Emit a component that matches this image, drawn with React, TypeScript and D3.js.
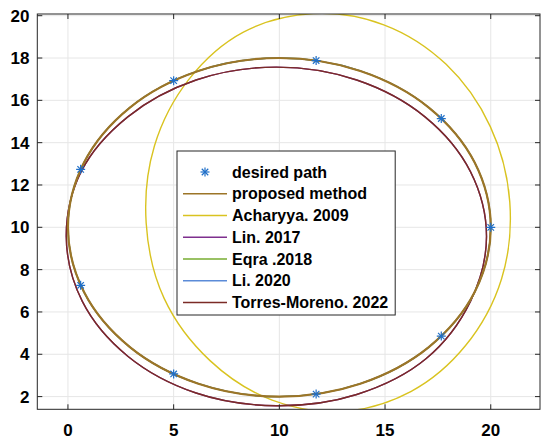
import React from "react";
import * as d3 from "d3";

// ---- data ----
const xTicks = [0, 5, 10, 15, 20];
const yTicks = [2, 4, 6, 8, 10, 12, 14, 16, 18, 20];
const xDomain = [-1.45, 22.33];
const yDomain = [1.4, 20.08];

const desiredX = [20, 17.66, 11.74, 5, 0.6, 0.6, 5, 11.74, 17.66];
const desiredY = [10, 15.14, 17.88, 16.93, 12.74, 7.26, 3.07, 2.12, 4.86];

// proposed method / Eqra / Li (coincident)
const proposedX = [20, 19.24, 17.07, 13.83, 10, 6.17, 2.93, 0.76, 0, 0.76, 2.93, 6.17, 10, 13.83, 17.07, 19.24];
const proposedY = [10, 13.06, 15.66, 17.39, 18, 17.39, 15.66, 13.06, 10, 6.94, 4.34, 2.61, 2, 2.61, 4.34, 6.94];

const acharyyaX = [20.9, 19.98, 17.89, 14.94, 11.6, 8.3, 5.73, 4.09, 3.7, 4.55, 6.72, 9.66, 13.0, 16.24, 18.8, 20.51];
const acharyyaY = [11.2, 14.76, 17.7, 19.57, 20.1, 19.22, 17.0, 13.84, 10.2, 6.64, 3.7, 1.83, 1.3, 2.25, 4.4, 7.56];

// Lin / Torres-Moreno (coincident)
const torresX = [19.8, 19.04, 16.89, 13.66, 9.86, 6.06, 2.83, 0.64, -0.08, 0.68, 2.83, 6.06, 9.86, 13.66, 16.95, 19.04];
const torresY = [9.57, 12.63, 15.22, 16.96, 17.57, 16.96, 15.22, 12.66, 9.57, 6.5, 3.91, 2.17, 1.57, 2.1, 3.8, 6.5];

const legendLabels = [
  "desired path",
  "proposed method",
  "Acharyya. 2009",
  "Lin. 2017",
  "Eqra .2018",
  "Li. 2020",
  "Torres-Moreno. 2022",
];
const colors = ["#1f6fc8", "#9C7527", "#D9C320", "#7E2F8E", "#77AC30", "#5B8BD8", "#7B2B26"];

const W = 550, H = 446;
const L = 37.3, R = 540, T = 14, B = 409.3;
const FONT = "'Liberation Sans', Arial, sans-serif";

function asterisk(cx: number, cy: number, r: number, color: string, key: string) {
  const d = r * 0.72;
  return (
    <g key={key} stroke={color} strokeWidth={1.2}>
      <line x1={cx - r} y1={cy} x2={cx + r} y2={cy} />
      <line x1={cx} y1={cy - r} x2={cx} y2={cy + r} />
      <line x1={cx - d} y1={cy - d} x2={cx + d} y2={cy + d} />
      <line x1={cx - d} y1={cy + d} x2={cx + d} y2={cy - d} />
    </g>
  );
}

export default function App() {
  const x = d3.scaleLinear().domain(xDomain).range([L, R]);
  const y = d3.scaleLinear().domain(yDomain).range([B, T]);

  const line = d3
    .line<[number, number]>()
    .x((d) => x(d[0]))
    .y((d) => y(d[1]))
    .curve(d3.curveCatmullRomClosed.alpha(0.5));

  const pts = (xs: number[], ys: number[]) => xs.map((v, i) => [v, ys[i]] as [number, number]);
  const proposedPath = line(pts(proposedX, proposedY)) || "";
  const acharyyaPath = line(pts(acharyyaX, acharyyaY)) || "";
  const torresPath = line(pts(torresX, torresY)) || "";

  // legend width from text measure
  let maxW = 157;
  if (typeof document !== "undefined") {
    const ctx = document.createElement("canvas").getContext("2d");
    if (ctx) {
      ctx.font = "bold 16px 'Liberation Sans'";
      maxW = Math.max(...legendLabels.map((s) => ctx.measureText(s).width));
    }
  }
  const legX = 177, legTop = 151, rowH = 21.75, row0 = 172;
  const legW = 232 - legX + maxW + 7;
  const legH = 315 - legTop;

  const axisColor = "#262626";
  const gridColor = "#e6e6e6";

  return (
    <svg width={W} height={H} style={{ position: "absolute", left: 0, top: 0, background: "#fff" }}>
      <defs>
        <clipPath id="plotclip">
          <rect x={L} y={T} width={R - L} height={B - T} />
        </clipPath>
      </defs>
      <rect x={0} y={0} width={W} height={H} fill="#fff" />
      {/* grid */}
      {xTicks.map((t) => (
        <line key={"gx" + t} x1={x(t)} x2={x(t)} y1={T} y2={B} stroke={gridColor} strokeWidth={1} />
      ))}
      {yTicks.map((t) => (
        <line key={"gy" + t} x1={L} x2={R} y1={y(t)} y2={y(t)} stroke={gridColor} strokeWidth={1} />
      ))}

      {/* curves */}
      <g clipPath="url(#plotclip)" fill="none">
        <path d={acharyyaPath} stroke={colors[2]} strokeWidth={1.4} />
        <path d={torresPath} stroke={colors[3]} strokeWidth={1.4} />
        <path d={torresPath} stroke={colors[6]} strokeWidth={1.4} />
        <path d={proposedPath} stroke={colors[4]} strokeWidth={1.4} />
        <path d={proposedPath} stroke={colors[5]} strokeWidth={1.4} />
        <path d={proposedPath} stroke={colors[1]} strokeWidth={2.2} />
        {desiredX.map((v, i) => asterisk(x(v), y(desiredY[i]), 4.5, colors[0], "m" + i))}
      </g>

      {/* axes box and ticks */}
      <rect x={L} y={T} width={R - L} height={B - T} fill="none" stroke={axisColor} strokeWidth={1} />
      {xTicks.map((t) => (
        <g key={"tx" + t} stroke={axisColor}>
          <line x1={x(t)} x2={x(t)} y1={B} y2={B - 5} />
          <line x1={x(t)} x2={x(t)} y1={T} y2={T + 5} />
        </g>
      ))}
      {yTicks.map((t) => (
        <g key={"ty" + t} stroke={axisColor}>
          <line x1={L} x2={L + 5} y1={y(t)} y2={y(t)} />
          <line x1={R} x2={R - 5} y1={y(t)} y2={y(t)} />
        </g>
      ))}
      {xTicks.map((t) => (
        <text key={"lx" + t} x={x(t)} y={436} textAnchor="middle" fontFamily={FONT} fontWeight="bold" fontSize={17} fill="#000">
          {t}
        </text>
      ))}
      {yTicks.map((t) => (
        <text key={"ly" + t} x={29.5} y={y(t) + 6} textAnchor="end" fontFamily={FONT} fontWeight="bold" fontSize={17} fill="#000">
          {t}
        </text>
      ))}

      {/* legend */}
      <rect x={legX} y={legTop} width={legW} height={legH} fill="#fff" stroke={axisColor} strokeWidth={1} />
      {legendLabels.map((lab, i) => {
        const cy = row0 + i * rowH;
        return (
          <g key={"leg" + i}>
            {i === 0 ? (
              asterisk(205, cy, 4.5, colors[0], "lm")
            ) : (
              <line x1={183} x2={227} y1={cy} y2={cy} stroke={colors[i]} strokeWidth={i === 1 ? 1.6 : 1.4} />
            )}
            <text x={232} y={cy + 5.5} fontFamily={FONT} fontWeight="bold" fontSize={16} fill="#000">
              {lab}
            </text>
          </g>
        );
      })}
    </svg>
  );
}
